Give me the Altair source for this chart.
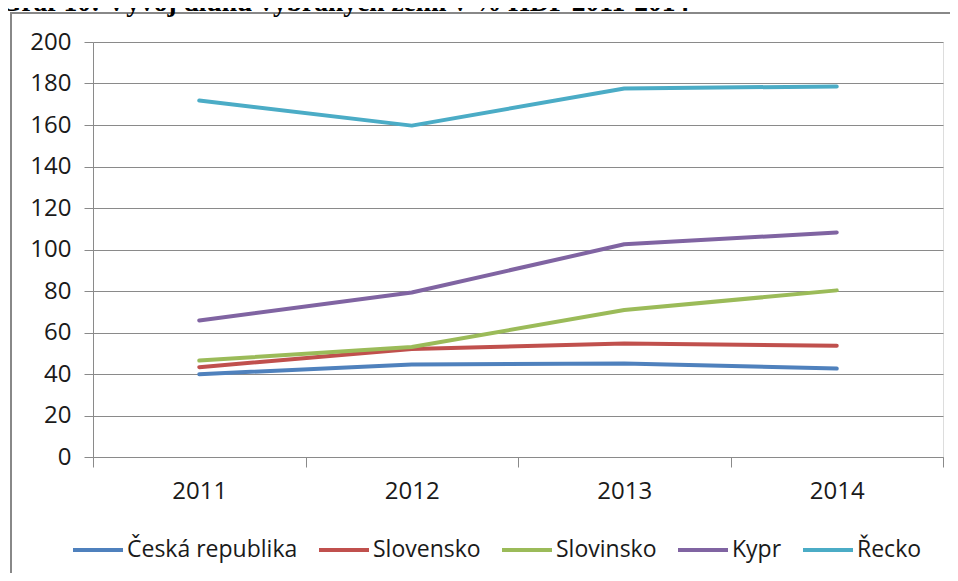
import altair as alt
import pandas as pd

years = ["2011", "2012", "2013", "2014"]
countries = ["Česká republika", "Slovensko", "Slovinsko", "Kypr", "Řecko"]
colors = ["#4F81BD", "#C0504D", "#9BBB59", "#8064A2", "#4BACC6"]

cz = [39.9, 44.6, 45.1, 42.6]
sk = [43.3, 52.1, 54.7, 53.6]
si = [46.5, 53.0, 70.8, 80.3]
cy = [65.8, 79.3, 102.5, 108.2]
gr = [171.8, 159.7, 177.6, 178.6]

y_ticks = [0, 20, 40, 60, 80, 100, 120, 140, 160, 180, 200]
title_text = "Graf 10: Vývoj dluhu vybraných zemí v % HDP 2011-2014"

series = [cz, sk, si, cy, gr]
rows = []
for name, vals in zip(countries, series):
    for yr, v in zip(years, vals):
        rows.append({"rok": yr, "zeme": name, "hodnota": v})
df = pd.DataFrame(rows)

FONT = "Open Sans"
GRID = "#8a8a8a"

lines = alt.Chart(df).mark_line(strokeWidth=4, strokeCap="round", strokeJoin="round").encode(
    x=alt.X("rok:N",
            scale=alt.Scale(type="band", paddingInner=0, paddingOuter=0),
            axis=alt.Axis(title=None, tickBand="extent", grid=False, labelAngle=0,
                          labelFontSize=24, labelFont=FONT, labelColor="#1a1a1a",
                          labelPadding=12, tickSize=10, tickColor=GRID, domainColor=GRID)),
    y=alt.Y("hodnota:Q",
            scale=alt.Scale(domain=[0, 200], nice=False, zero=True),
            axis=alt.Axis(title=None, values=y_ticks, grid=True, gridColor=GRID, gridWidth=1,
                          labelFontSize=24, labelFont=FONT, labelColor="#1a1a1a",
                          labelPadding=13, tickSize=9, tickColor=GRID, domainColor=GRID)),
    color=alt.Color("zeme:N",
                    scale=alt.Scale(domain=countries, range=colors),
                    sort=countries,
                    legend=alt.Legend(orient="none", legendX=-22, legendY=481,
                                      direction="horizontal", columns=5, title=None,
                                      symbolType="stroke", symbolSize=2500,
                                      symbolStrokeWidth=4, labelFontSize=23,
                                      labelFont=FONT, labelColor="#1a1a1a", labelLimit=0,
                                      labelOffset=2, columnPadding=13)),
    order=alt.Order("rok:N"),
)

tdf = pd.DataFrame({"t": [title_text]})
title = alt.Chart(tdf).mark_text(
    font="Liberation Serif", fontWeight="bold", fontSize=27.5, align="left",
    baseline="alphabetic", color="#000"
).encode(text="t:N", x=alt.value(-93), y=alt.value(-31))

frame = alt.Chart(tdf).mark_rect(fillOpacity=0, stroke="#888888", strokeWidth=2).encode(
    x=alt.value(-82), y=alt.value(-29), x2=alt.value(900), y2=alt.value(600)
)

chart = alt.layer(frame, lines, title).properties(
    width=850, height=415,
    padding={"left": 85, "top": 34, "right": 7, "bottom": 116},
    autosize=alt.AutoSizeParams(type="none"),
).configure_view(stroke=None).configure(background="white")

chart.save("out.html", embed_options={"renderer": "svg", "actions": False})
